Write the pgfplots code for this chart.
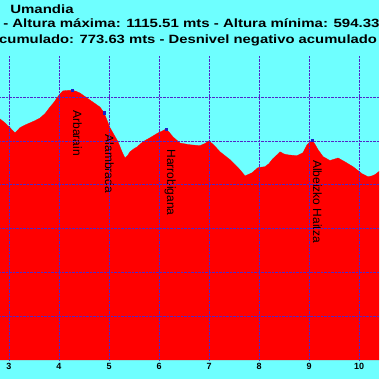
\documentclass[border=0pt]{standalone}
\usepackage{pgfplots}
\pgfplotsset{compat=1.18}
\usepackage{fontspec}
\setmainfont{Liberation Sans}
\setsansfont{Liberation Sans}
\definecolor{bgcyan}{RGB}{110,255,255}
\definecolor{gridblue}{RGB}{80,40,200}
\definecolor{mkblue}{RGB}{30,30,200}
\begin{document}
\begin{tikzpicture}[x=1pt,y=1pt]
\useasboundingbox (0,0) rectangle (379,379);
\clip (0,0) rectangle (379,379);
\fill[bgcyan] (0,0) rectangle (379,379);
\begin{axis}[
  at={(-11pt,19pt)}, anchor=south west,
  x=50pt, y=0.43833pt,
  xmin=2.6, xmax=10.6, ymin=500, ymax=1195,
  axis line style={draw=none},
  major tick length=0pt,
  xtick={3,4,5,6,7,8,9,10},
  ytick={600,700,800,900,1000,1100},
  yticklabels={},
  grid=major,
  grid style={gridblue, densely dotted, line width=0.4pt},
  axis on top,
  xticklabel style={font=\bfseries\fontsize{9}{9}\selectfont, text=black},
  /pgf/number format/assume math mode=true,
  clip=false,
]
\addplot[fill=red, draw=red, line width=0.3pt] coordinates {
(2.60,1058)(2.82,1050)(2.92,1041)(3.02,1030)(3.12,1018)(3.22,1030)(3.32,1036)(3.42,1041)(3.52,1046)(3.62,1052)(3.72,1062)(3.82,1077)(3.90,1088)(3.96,1098)(4.02,1107)(4.08,1114)(4.18,1115)(4.26,1115.5)(4.34,1113)(4.42,1109)(4.52,1101)(4.62,1093)(4.72,1085)(4.82,1077)(4.90,1064)(4.96,1047)(5.02,1030)(5.10,1014)(5.18,998)(5.26,975)(5.32,961)(5.37,966)(5.42,975)(5.50,982)(5.56,986)(5.68,998)(5.82,1007)(5.98,1018)(6.06,1022)(6.14,1027)(6.20,1020)(6.28,1009)(6.42,995)(6.52,993)(6.62,991)(6.72,990)(6.82,989)(6.92,994)(7.00,1000)(7.10,990)(7.22,975)(7.32,966)(7.42,957)(7.52,946)(7.62,934)(7.72,920)(7.80,924)(7.86,927)(7.98,939)(8.12,941)(8.20,948)(8.26,957)(8.34,966)(8.42,975)(8.50,970)(8.58,968)(8.76,966)(8.88,973)(8.96,991)(9.06,1002)(9.12,992)(9.18,980)(9.28,964)(9.42,955)(9.50,958)(9.58,961)(9.72,952)(9.88,941)(10.06,925)(10.18,918)(10.26,920)(10.32,923)(10.40,930)(10.60,945)
} \closedcycle;
\addplot[only marks, mark=square*, mark size=1.2pt, mkblue] coordinates {(4.26,1115.5) (4.90,1064) (6.14,1027) (9.06,1002)};
\node[rotate=-90, anchor=base west, inner sep=0pt, font=\fontsize{12}{12}\selectfont] at (axis cs:4.28,1070) {Arbarain};
\node[rotate=-90, anchor=base west, inner sep=0pt, font=\fontsize{12}{12}\selectfont] at (axis cs:4.92,1014) {Alambrada};
\node[rotate=-90, anchor=base west, inner sep=0pt, font=\fontsize{12}{12}\selectfont] at (axis cs:6.16,981) {Harrobigana};
\node[rotate=-90, anchor=base west, inner sep=0pt, font=\fontsize{12}{12}\selectfont] at (axis cs:9.08,956) {Albeizko Haitza};
\end{axis}
\node[anchor=base west, inner sep=0pt, xscale=1.25, font=\bfseries\fontsize{12}{12}\selectfont] at (10,365.7) {Umandia};
\node[anchor=base west, inner sep=0pt, xscale=1.25, font=\bfseries\fontsize{12}{12}\selectfont] at (3,351.3) {- Altura máxima: 1115.51 mts - Altura mínima: 594.33};
\node[anchor=base west, inner sep=0pt, xscale=1.235, font=\bfseries\fontsize{12}{12}\selectfont] at (-1,335) {cumulado: 773.63 mts - Desnivel negativo acumulado};
\end{tikzpicture}
\end{document}
